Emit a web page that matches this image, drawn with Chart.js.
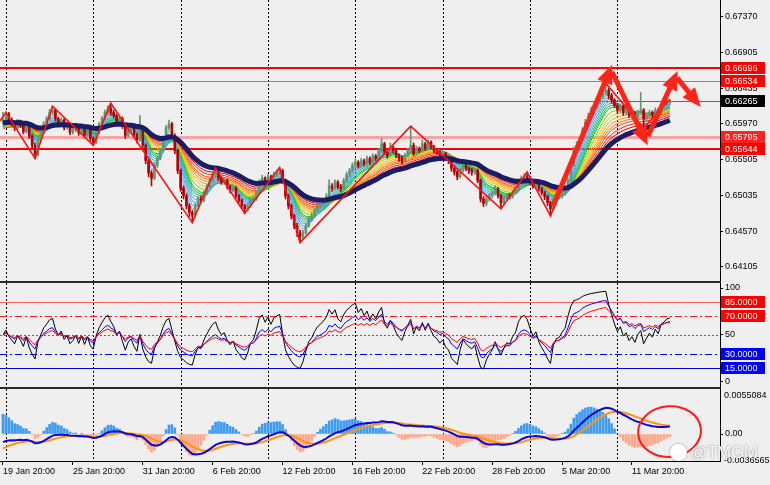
<!DOCTYPE html>
<html>
<head>
<meta charset="utf-8">
<title>AUDUSD H4</title>
<script src="https://cdn.jsdelivr.net/npm/chart.js@4.4.1/dist/chart.umd.min.js"></script>
<style>
  html, body { margin: 0; padding: 0; background: #efefef; }
  body { width: 770px; height: 485px; position: relative; overflow: hidden; font-family: "Liberation Sans", Arial, sans-serif; }
  .pane { position: absolute; left: 0; width: 770px; }
  #paneMain { top: 0; height: 281px; }
  #paneOsc { top: 283px; height: 104px; }
  #paneMacd { top: 389px; height: 96px; }
  .sep { position: absolute; left: 0; width: 721px; height: 2px; background: #2a2a2a; }
  #wm { position: absolute; left: 670px; top: 443px; color: rgba(255,255,255,0.95); font-size: 17px; letter-spacing: -0.3px; text-shadow: 0 0 2px rgba(70,70,70,0.7); white-space: nowrap; }
  #wm .logo { display: inline-block; width: 17px; height: 17px; border-radius: 50%; background: rgba(255,255,255,0.95); vertical-align: -3px; margin-right: 3px; box-shadow: 0 0 2px rgba(70,70,70,0.7); }
</style>
</head>
<body>
<div class="pane" id="paneMain"><canvas id="mainChart"></canvas></div>
<div class="sep" style="top:281px"></div>
<div class="pane" id="paneOsc"><canvas id="oscChart"></canvas></div>
<div class="sep" style="top:387px"></div>
<div class="pane" id="paneMacd"><canvas id="macdChart"></canvas></div>
<div id="wm"><span class="logo"></span>@TMGM</div>
<script>
// H4 bars (bar 0 = 19 Jan 20:00)
const firstOpen = 0.6600;
const closes = [
  0.6603,0.6610,0.6602,0.6597,0.6592,0.6600,0.6595,0.6587,0.6596,0.6581,
  0.6569,0.6557,0.6576,0.6586,0.6597,0.6604,0.6612,0.6615,0.6604,0.6597,
  0.6602,0.6592,0.6596,0.6586,0.6589,0.6594,0.6585,0.6592,0.6582,0.6589,
  0.6578,0.6573,0.6586,0.6596,0.6604,0.6612,0.6617,0.6612,0.6608,0.6600,
  0.6604,0.6594,0.6582,0.6589,0.6592,0.6583,0.6576,0.6592,0.6569,0.6549,
  0.6533,0.6526,0.6543,0.6552,0.6562,0.6578,0.6592,0.6597,0.6582,0.6562,
  0.6536,0.6513,0.6503,0.6490,0.6481,0.6478,0.6490,0.6499,0.6497,0.6507,
  0.6515,0.6523,0.6530,0.6534,0.6526,0.6521,0.6523,0.6515,0.6510,0.6513,
  0.6503,0.6497,0.6490,0.6486,0.6490,0.6497,0.6499,0.6507,0.6521,0.6526,
  0.6521,0.6528,0.6523,0.6531,0.6534,0.6536,0.6523,0.6503,0.6490,0.6477,
  0.6464,0.6455,0.6450,0.6455,0.6464,0.6473,0.6477,0.6484,0.6490,0.6493,
  0.6497,0.6502,0.6516,0.6513,0.6521,0.6515,0.6513,0.6523,0.6531,0.6536,
  0.6543,0.6547,0.6542,0.6549,0.6545,0.6552,0.6547,0.6555,0.6552,0.6562,
  0.6571,0.6560,0.6556,0.6566,0.6562,0.6556,0.6552,0.6549,0.6556,0.6562,
  0.6569,0.6558,0.6565,0.6562,0.6571,0.6565,0.6573,0.6567,0.6562,0.6560,
  0.6556,0.6558,0.6552,0.6549,0.6539,0.6534,0.6528,0.6536,0.6543,0.6539,
  0.6536,0.6534,0.6536,0.6523,0.6499,0.6493,0.6499,0.6503,0.6506,0.6512,
  0.6503,0.6494,0.6499,0.6503,0.6502,0.6507,0.6510,0.6520,0.6526,0.6528,
  0.6526,0.6521,0.6516,0.6519,0.6512,0.6507,0.6502,0.6494,0.6486,0.6497,
  0.6502,0.6503,0.6507,0.6510,0.6523,0.6543,0.6564,0.6569,0.6576,0.6589,
  0.6599,0.6607,0.6615,0.6620,0.6626,0.6633,0.6638,0.6641,0.6634,0.6628,
  0.6621,0.6615,0.6620,0.6612,0.6615,0.6608,0.6611,0.6606,0.6612,0.6615,
  0.6604,0.6608,0.6612,0.6609,0.6615,0.6612,0.6620,0.6622,0.6625,0.6626
];
const highs = [
  0.6612,0.6613,0.6612,0.6605,0.6600,0.6603,0.6602,0.6598,0.6599,0.6598,
  0.6583,0.6572,0.6578,0.6589,0.6600,0.6607,0.6616,0.6620,0.6617,0.6606,
  0.6605,0.6604,0.6599,0.6598,0.6592,0.6597,0.6596,0.6595,0.6594,0.6592,
  0.6591,0.6580,0.6588,0.6599,0.6607,0.6615,0.6621,0.6624,0.6615,0.6610,
  0.6607,0.6606,0.6596,0.6592,0.6596,0.6594,0.6585,0.6608,0.6594,0.6571,
  0.6551,0.6536,0.6546,0.6555,0.6565,0.6581,0.6595,0.6602,0.6599,0.6584,
  0.6564,0.6538,0.6516,0.6506,0.6493,0.6484,0.6493,0.6502,0.6503,0.6510,
  0.6518,0.6526,0.6533,0.6539,0.6536,0.6528,0.6526,0.6525,0.6517,0.6516,
  0.6515,0.6505,0.6499,0.6492,0.6493,0.6500,0.6503,0.6510,0.6524,0.6530,
  0.6528,0.6531,0.6530,0.6534,0.6537,0.6540,0.6538,0.6525,0.6505,0.6492,
  0.6479,0.6467,0.6458,0.6458,0.6467,0.6476,0.6481,0.6487,0.6493,0.6497,
  0.6500,0.6506,0.6524,0.6519,0.6524,0.6523,0.6518,0.6526,0.6534,0.6539,
  0.6546,0.6551,0.6549,0.6552,0.6551,0.6555,0.6554,0.6558,0.6557,0.6565,
  0.6578,0.6573,0.6562,0.6572,0.6568,0.6564,0.6558,0.6555,0.6559,0.6565,
  0.6594,0.6572,0.6568,0.6567,0.6576,0.6573,0.6576,0.6575,0.6569,0.6565,
  0.6562,0.6561,0.6560,0.6554,0.6551,0.6541,0.6536,0.6539,0.6546,0.6545,
  0.6541,0.6539,0.6539,0.6538,0.6525,0.6502,0.6502,0.6506,0.6509,0.6516,
  0.6514,0.6505,0.6502,0.6506,0.6506,0.6510,0.6513,0.6523,0.6529,0.6532,
  0.6534,0.6528,0.6523,0.6522,0.6521,0.6514,0.6509,0.6504,0.6496,0.6500,
  0.6505,0.6507,0.6510,0.6514,0.6526,0.6546,0.6567,0.6574,0.6580,0.6592,
  0.6603,0.6611,0.6619,0.6624,0.6630,0.6637,0.6643,0.6650,0.6644,0.6637,
  0.6630,0.6624,0.6623,0.6622,0.6618,0.6617,0.6614,0.6613,0.6615,0.6638,
  0.6617,0.6611,0.6615,0.6614,0.6618,0.6617,0.6623,0.6626,0.6629,0.6629
];
const lows = [
  0.6597,0.6601,0.6599,0.6594,0.6588,0.6590,0.6592,0.6584,0.6585,0.6578,
  0.6565,0.6552,0.6555,0.6574,0.6584,0.6595,0.6602,0.6609,0.6601,0.6594,
  0.6595,0.6589,0.6590,0.6583,0.6584,0.6587,0.6582,0.6583,0.6579,0.6580,
  0.6575,0.6569,0.6571,0.6584,0.6594,0.6602,0.6609,0.6608,0.6605,0.6596,
  0.6598,0.6591,0.6578,0.6580,0.6586,0.6580,0.6572,0.6574,0.6566,0.6545,
  0.6528,0.6516,0.6524,0.6540,0.6550,0.6560,0.6576,0.6589,0.6579,0.6558,
  0.6532,0.6509,0.6499,0.6486,0.6476,0.6468,0.6475,0.6488,0.6494,0.6495,
  0.6505,0.6513,0.6521,0.6527,0.6523,0.6518,0.6518,0.6512,0.6507,0.6508,
  0.6500,0.6494,0.6486,0.6480,0.6483,0.6488,0.6495,0.6497,0.6505,0.6518,
  0.6517,0.6519,0.6520,0.6521,0.6528,0.6531,0.6520,0.6499,0.6486,0.6473,
  0.6460,0.6450,0.6442,0.6447,0.6453,0.6462,0.6470,0.6475,0.6482,0.6487,
  0.6490,0.6495,0.6500,0.6509,0.6511,0.6512,0.6509,0.6511,0.6521,0.6528,
  0.6534,0.6540,0.6539,0.6540,0.6542,0.6543,0.6544,0.6545,0.6549,0.6550,
  0.6560,0.6557,0.6552,0.6554,0.6559,0.6553,0.6548,0.6545,0.6547,0.6554,
  0.6559,0.6555,0.6556,0.6559,0.6560,0.6562,0.6563,0.6564,0.6559,0.6557,
  0.6553,0.6553,0.6549,0.6545,0.6535,0.6530,0.6524,0.6526,0.6534,0.6536,
  0.6532,0.6530,0.6531,0.6520,0.6495,0.6489,0.6490,0.6496,0.6500,0.6504,
  0.6500,0.6486,0.6491,0.6497,0.6499,0.6500,0.6505,0.6508,0.6518,0.6524,
  0.6523,0.6518,0.6513,0.6513,0.6509,0.6504,0.6498,0.6490,0.6477,0.6484,
  0.6494,0.6499,0.6500,0.6504,0.6508,0.6521,0.6541,0.6560,0.6566,0.6574,
  0.6587,0.6596,0.6604,0.6612,0.6617,0.6623,0.6630,0.6635,0.6630,0.6624,
  0.6618,0.6611,0.6612,0.6608,0.6609,0.6605,0.6604,0.6602,0.6603,0.6610,
  0.6592,0.6600,0.6605,0.6606,0.6607,0.6609,0.6610,0.6618,0.6620,0.6622
];

// zigzag pivots (bar index, price)
const zigzagBars = [-1.03, 1, 11, 17, 31, 37, 65, 73, 83, 95, 102, 140, 171, 180, 188, 207, 220, 229];
const zigzagPrices = [0.6601, 0.6612, 0.6552, 0.6620, 0.6569, 0.6624, 0.6468, 0.6539, 0.6480, 0.6540, 0.6442, 0.6594, 0.6486, 0.6534, 0.6477, 0.6650, 0.6592, 0.6629];

// hand-drawn arrows (from -> to, in bars / price)
const arrowFromBars = [188.9, 209.1, 221.5, 231.5];
const arrowFromPrices = [0.6490, 0.6665, 0.6581, 0.6657];
const arrowToBars = [208.4, 220.5, 230.8, 238.3];
const arrowToPrices = [0.6667, 0.6576, 0.6659, 0.6625];

// horizontal levels
const priceLevels = [0.66696, 0.66534, 0.66265, 0.65795, 0.65644];
const oscLevels = [85, 70, 50, 30, 15];

// axes
const priceTicks = [0.64105, 0.64570, 0.65035, 0.65505, 0.65970, 0.66435, 0.66905, 0.67370];
const priceMin = 0.63918, priceMax = 0.67588;
const oscTicks = [0, 50, 100];
const oscMin = -5.32, oscMax = 105.32;
const macdTop = 0.0055084, macdBottom = -0.0036565, macdAxisMin = -0.003305;
const dateTickBars = [0, 24, 48, 72, 96, 120, 144, 168, 192, 216];
const dateLabels = ['19 Jan 20:00', '25 Jan 20:00', '31 Jan 20:00', '6 Feb 20:00', '12 Feb 20:00',
  '16 Feb 20:00', '22 Feb 20:00', '28 Feb 20:00', '5 Mar 20:00', '11 Mar 20:00'];
const weekStartBars = [1, 31, 61, 91, 121, 151, 181, 211];
const xMin = -1.03, xMax = 246.22;

// indicator settings
const ribbonPeriods = [3, 4, 5, 6, 7, 8, 9, 10, 12, 14, 16, 18, 20, 22, 25, 28];
const ribbonSeed = 0.6590;
const trendPeriod = 34, trendSeed = 0.6598;
const rsiPeriods = [7, 14, 21];
const rsiSeedMove = 0.0005;
const macdFast = 12, macdSlow = 26, macdSignalPeriod = 9;
const macdFastSeed = 0.6600, macdSlowSeed = 0.6611, macdSignalSeed = -0.0020;
const histScale = 3;

// red circle on the MACD pane (centre bar/value and half sizes)
const circleBar = 228.9, circleValue = 0.0003, circleHalfBars = 10.8, circleHalfValue = 0.0031;

// ---------------------------------------------------------------
const FONT = '"Liberation Sans", Arial, sans-serif';
const tickFont = { family: FONT, size: 9 };
const ribbonColors = ['#64b4ff', '#58aaf6', '#4ea2f0', '#46a8e6', '#3cb6c8', '#22c07a', '#10c840', '#00cc00',
  '#8cd400', '#e8cc00', '#ffb000', '#ff9000', '#ff7000', '#ff4c00', '#f22a10', '#d80000'];

const opens = closes.map((c, i) => (i === 0 ? firstOpen : closes[i - 1]));

function ema(src, period, seed) {
  const k = 2 / (period + 1);
  let e = seed;
  return src.map(v => (e += k * (v - e)));
}

function rsi(src, period) {
  let up = rsiSeedMove, dn = rsiSeedMove;
  return src.map((v, i) => {
    if (i > 0) {
      const d = v - src[i - 1];
      up = (up * (period - 1) + Math.max(d, 0)) / period;
      dn = (dn * (period - 1) + Math.max(-d, 0)) / period;
    }
    return 100 - 100 / (1 + up / dn);
  });
}

const pts = arr => arr.map((y, x) => ({ x, y }));

const fast = ema(closes, macdFast, macdFastSeed);
const slow = ema(closes, macdSlow, macdSlowSeed);
const macdMain = fast.map((v, i) => v - slow[i]);
const macdSignal = ema(macdMain, macdSignalPeriod, macdSignalSeed);
const macdHist = macdMain.map((v, i) => (v - macdSignal[i]) * histScale);

// ---------- plugins ----------
const weekLines = {
  id: 'weekLines',
  beforeDatasetsDraw(chart) {
    const { ctx, chartArea: a, scales: { x } } = chart;
    ctx.save();
    ctx.strokeStyle = '#000';
    ctx.lineWidth = 1;
    ctx.setLineDash([2, 2]);
    weekStartBars.forEach(b => {
      const px = Math.round(x.getPixelForValue(b)) + 0.5;
      ctx.beginPath();
      ctx.moveTo(px, a.top);
      ctx.lineTo(px, a.bottom);
      ctx.stroke();
    });
    ctx.restore();
  }
};

const levelLines = {
  id: 'levelLines',
  beforeDatasetsDraw(chart, args, opts) {
    const { ctx, chartArea: a, scales: { y } } = chart;
    (opts.items || []).forEach(it => {
      const py = Math.round(y.getPixelForValue(it.value)) + (it.width % 2 ? 0.5 : 0);
      ctx.save();
      ctx.strokeStyle = it.color;
      ctx.lineWidth = it.width;
      ctx.setLineDash(it.dash || []);
      ctx.beginPath();
      ctx.moveTo(a.left, py);
      ctx.lineTo(a.right, py);
      ctx.stroke();
      ctx.restore();
    });
  },
  afterDraw(chart, args, opts) {
    const { ctx, chartArea: a, scales: { y } } = chart;
    ctx.save();
    ctx.font = '9px ' + FONT;
    ctx.textBaseline = 'middle';
    (opts.items || []).forEach(it => {
      if (!it.box) return;
      const py = Math.round(y.getPixelForValue(it.value));
      ctx.fillStyle = it.box;
      ctx.fillRect(a.right + 1, py - 6, 44, 12);
      ctx.fillStyle = '#fff';
      ctx.fillText(it.text, a.right + 5, py + 0.5);
    });
    ctx.restore();
  }
};

const arrowHeads = {
  id: 'arrowHeads',
  afterDatasetsDraw(chart) {
    const { ctx } = chart;
    chart.data.datasets.forEach((ds, i) => {
      if (!ds.arrowHead) return;
      const el = chart.getDatasetMeta(i).data;
      const p0 = el[el.length - 2], p1 = el[el.length - 1];
      const ang = Math.atan2(p1.y - p0.y, p1.x - p0.x);
      ctx.save();
      ctx.fillStyle = ds.borderColor;
      ctx.translate(p1.x, p1.y);
      ctx.rotate(ang);
      ctx.beginPath();
      ctx.moveTo(6, 0);
      ctx.lineTo(-13, -8);
      ctx.lineTo(-13, 8);
      ctx.closePath();
      ctx.fill();
      ctx.restore();
    });
  }
};

const circleMark = {
  id: 'circleMark',
  afterDatasetsDraw(chart) {
    const { ctx, scales: { x, y } } = chart;
    const cx = x.getPixelForValue(circleBar), cy = y.getPixelForValue(circleValue);
    const rx = x.getPixelForValue(circleBar + circleHalfBars) - cx;
    const ry = cy - y.getPixelForValue(circleValue + circleHalfValue);
    ctx.save();
    ctx.strokeStyle = '#ff1a1a';
    ctx.lineWidth = 2;
    ctx.beginPath();
    ctx.ellipse(cx, cy, rx, ry, -0.08, 0, Math.PI * 2);
    ctx.stroke();
    ctx.restore();
  }
};

const macdEnds = {
  id: 'macdEnds',
  afterDraw(chart) {
    const { ctx, chartArea: a } = chart;
    ctx.save();
    ctx.font = '9px ' + FONT;
    ctx.fillStyle = '#000';
    ctx.textBaseline = 'top';
    ctx.fillText(macdTop.toFixed(7), a.right + 4, a.top + 2);
    ctx.textBaseline = 'bottom';
    ctx.fillText(macdBottom.toFixed(7), a.right + 4, a.bottom + 4);
    ctx.restore();
  }
};

// ---------- shared scale pieces ----------
function xScale(show) {
  const s = {
    type: 'linear', min: xMin, max: xMax, offset: false, display: show,
    grid: { offset: false, drawOnChartArea: false, drawTicks: true, tickLength: 4, color: '#000' },
    border: { display: true, color: '#000' }
  };
  if (show) {
    s.afterBuildTicks = sc => { sc.ticks = dateTickBars.map(v => ({ value: v })); };
    s.afterFit = sc => { sc.height = 24; sc.paddingLeft = 0; sc.paddingRight = 0; };
    s.ticks = { align: 'start', maxRotation: 0, autoSkip: false, color: '#000', font: tickFont, padding: 1,
      callback: (v, i) => dateLabels[i] };
  }
  return s;
}

function yScale(min, max, ticks, fmt) {
  return {
    position: 'right', min, max,
    afterFit: sc => { sc.width = 50; sc.paddingTop = 0; sc.paddingBottom = 0; },
    afterBuildTicks: sc => { sc.ticks = ticks.map(v => ({ value: v })); },
    border: { display: true, color: '#000', width: 1 },
    grid: { drawOnChartArea: false, drawTicks: true, tickLength: 3, color: '#000' },
    ticks: { color: '#000', font: tickFont, padding: 2, autoSkip: false, callback: fmt }
  };
}

const baseOptions = {
  responsive: true,
  maintainAspectRatio: false,
  animation: false,
  events: [],
  layout: { padding: 0 }
};

// ---------- main price pane ----------
const candleColors = closes.map((c, i) => (c >= opens[i] ? '#5f9772' : '#b30000'));

const mainDatasets = [];
ribbonPeriods.forEach((p, k) => {
  mainDatasets.push({
    type: 'line', data: pts(ema(closes, p, ribbonSeed)), borderColor: ribbonColors[k],
    borderWidth: 1, pointRadius: 0, order: 60
  });
});
mainDatasets.push({
  type: 'bar', data: closes.map((c, i) => ({ x: i, y: [lows[i], highs[i]] })),
  backgroundColor: candleColors, barThickness: 1, grouped: false, order: 50
});
mainDatasets.push({
  type: 'bar', data: closes.map((c, i) => ({ x: i, y: [opens[i], c] })),
  backgroundColor: candleColors, barThickness: 2, minBarLength: 1, grouped: false, order: 49
});
mainDatasets.push({
  type: 'line', data: pts(ema(closes, trendPeriod, trendSeed)), borderColor: '#1b1b66',
  borderWidth: 5, pointRadius: 0, order: 40
});
mainDatasets.push({
  type: 'line', data: zigzagBars.map((b, i) => ({ x: b, y: zigzagPrices[i] })), borderColor: '#ff1010',
  borderWidth: 1.6, pointRadius: 0, order: 30
});
arrowFromBars.forEach((b, i) => {
  mainDatasets.push({
    type: 'line', arrowHead: true,
    data: [{ x: b, y: arrowFromPrices[i] }, { x: arrowToBars[i], y: arrowToPrices[i] }],
    borderColor: '#ff2418', borderWidth: 5, pointRadius: 0, order: 10
  });
});

const mainLevelStyle = [
  { color: '#ff0000', width: 2, box: '#ff0000' },
  { color: '#ff5555', width: 1, box: '#ff0000' },
  { color: '#3b68d6', width: 1, box: '#000000' },
  { color: '#f4a4a4', width: 3, box: '#ff2020' },
  { color: '#ff0000', width: 2, box: '#ff0000' }
];

new Chart(document.getElementById('mainChart'), {
  type: 'bar',
  data: { datasets: mainDatasets },
  options: {
    ...baseOptions,
    scales: {
      x: xScale(false),
      y: yScale(priceMin, priceMax, priceTicks, v => Number(v).toFixed(5))
    },
    plugins: {
      legend: { display: false }, tooltip: { enabled: false },
      levelLines: { items: priceLevels.map((v, i) => ({ value: v, text: v.toFixed(5), ...mainLevelStyle[i] })) }
    }
  },
  plugins: [weekLines, levelLines, arrowHeads]
});

// ---------- oscillator pane ----------
const oscColors = ['#000000', '#0000ff', '#ff0000'];
const oscLevelStyle = [
  { color: '#ff6060', width: 1, box: '#ff0000' },
  { color: '#ff1a1a', width: 1, dash: [7, 3, 2, 3], box: '#ff0000' },
  { color: '#666666', width: 1, dash: [2, 2] },
  { color: '#0000ff', width: 1, dash: [7, 3, 2, 3], box: '#0000ff' },
  { color: '#0000dd', width: 1, box: '#0000ff' }
];

new Chart(document.getElementById('oscChart'), {
  type: 'line',
  data: {
    datasets: rsiPeriods.map((p, k) => ({
      data: pts(rsi(closes, p)), borderColor: oscColors[k], borderWidth: 1, pointRadius: 0, order: 10 - k
    }))
  },
  options: {
    ...baseOptions,
    scales: {
      x: xScale(false),
      y: yScale(oscMin, oscMax, oscTicks, v => String(v))
    },
    plugins: {
      legend: { display: false }, tooltip: { enabled: false },
      levelLines: { items: oscLevels.map((v, i) => ({ value: v, text: v.toFixed(4), ...oscLevelStyle[i] })) }
    }
  },
  plugins: [weekLines, levelLines]
});

// ---------- MACD pane ----------
new Chart(document.getElementById('macdChart'), {
  type: 'bar',
  data: {
    datasets: [
      {
        type: 'bar', data: pts(macdHist), barThickness: 2, grouped: false, order: 20,
        backgroundColor: macdHist.map(v => (v >= 0 ? '#3d9cf2' : '#ffa789'))
      },
      { type: 'line', data: pts(macdSignal), borderColor: '#ff9410', borderWidth: 2, pointRadius: 0, order: 11 },
      { type: 'line', data: pts(macdMain), borderColor: '#0a0ad2', borderWidth: 2, pointRadius: 0, order: 10 }
    ]
  },
  options: {
    ...baseOptions,
    scales: {
      x: xScale(true),
      y: yScale(macdAxisMin, macdTop, [0], () => '0.00')
    },
    plugins: { legend: { display: false }, tooltip: { enabled: false } }
  },
  plugins: [weekLines, circleMark, macdEnds]
});
</script>
</body>
</html>
